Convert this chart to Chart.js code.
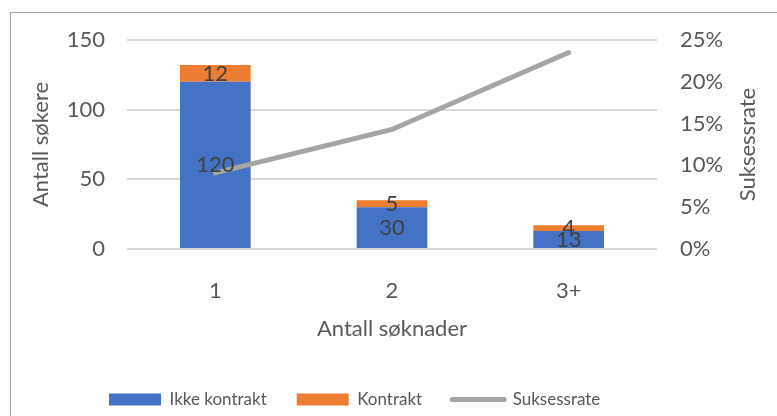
<!DOCTYPE html>
<html>
<head>
<meta charset="utf-8">
<script src="https://cdn.jsdelivr.net/npm/chart.js@4/dist/chart.umd.min.js"></script>
<style>
    body { margin: 0; background: #ffffff; }
    #wrap { position: relative; width: 777px; height: 416px; overflow: hidden; }
    #frame { position: absolute; left: 10px; top: 12px; width: 800px; height: 430px; border: 1px solid #ADA19B; box-sizing: border-box; }
    canvas { position: absolute; left: 0; top: 0; }
</style>
</head>
<body>
<div id="wrap">
    <div id="frame"></div>
    <canvas id="chart" width="777" height="416"></canvas>
</div>
<script>
// Søkere per antall søknader
const categories = ['1', '2', '3+'];
const ikkeKontrakt = [120, 30, 13];
const kontrakt = [12, 5, 4];
const suksessrate = [0.091, 0.143, 0.235];
const leftTicks = [0, 50, 100, 150];
const rightTicks = [0, 0.05, 0.10, 0.15, 0.20, 0.25];

const TEXT_COLOR = '#595959';
const LABEL_COLOR = '#404040';

Chart.defaults.font.family = 'Lato, "Open Sans", sans-serif';

// Value labels in the middle of each bar segment
const barLabels = {
    id: 'barLabels',
    afterDatasetsDraw(chart) {
        const ctx = chart.ctx;
        ctx.save();
        ctx.font = '22px Lato';
        ctx.fillStyle = LABEL_COLOR;
        ctx.textAlign = 'center';
        ctx.textBaseline = 'middle';
        chart.data.datasets.forEach((ds, i) => {
            if (ds.type === 'line') return;
            chart.getDatasetMeta(i).data.forEach((bar, j) => {
                const y = (bar.y + bar.base) / 2;
                ctx.fillText(String(ds.data[j]), bar.x, y);
            });
        });
        ctx.restore();
    }
};

// Right axis title reads bottom-to-top, and legend starts under the plot
const extras = {
    id: 'extras',
    afterLayout(chart) {
        const lg = chart.legend;
        lg.left = 109 - lg.options.labels.padding;
        lg.top += 2;
    },
    afterDraw(chart) {
        const ctx = chart.ctx;
        const area = chart.chartArea;
        ctx.save();
        ctx.font = '22px Lato';
        ctx.fillStyle = TEXT_COLOR;
        ctx.textAlign = 'center';
        ctx.textBaseline = 'middle';
        ctx.translate(748, (area.top + area.bottom) / 2);
        ctx.rotate(-Math.PI / 2);
        ctx.fillText('Suksessrate', 0, 0);
        ctx.restore();
    }
};

const ctx = document.getElementById('chart').getContext('2d');
const chart = new Chart(ctx, {
    type: 'bar',
    data: {
        labels: categories,
        datasets: [
            {
                label: 'Ikke kontrakt',
                data: ikkeKontrakt,
                backgroundColor: '#4472C4',
                stack: 's',
                yAxisID: 'y',
                order: 1
            },
            {
                label: 'Kontrakt',
                data: kontrakt,
                backgroundColor: '#ED7D31',
                stack: 's',
                yAxisID: 'y',
                order: 1
            },
            {
                type: 'line',
                label: 'Suksessrate',
                data: suksessrate,
                borderColor: '#A5A5A5',
                backgroundColor: '#A5A5A5',
                borderWidth: 5,
                borderCapStyle: 'round',
                pointRadius: 0,
                tension: 0,
                yAxisID: 'y1',
                order: 0
            }
        ]
    },
    options: {
        responsive: false,
        animation: false,
        datasets: {
            bar: {
                categoryPercentage: 1,
                barPercentage: 0.4
            }
        },
        layout: {
            padding: { left: 20, right: 0, top: 40, bottom: 0 }
        },
        plugins: {
            tooltip: { enabled: false },
            legend: {
                position: 'bottom',
                align: 'start',
                labels: {
                    usePointStyle: true,
                    pointStyleWidth: 52,
                    boxHeight: 12,
                    padding: 30,
                    color: TEXT_COLOR,
                    font: { size: 17 },
                    generateLabels(chart) {
                        const items = Chart.defaults.plugins.legend.labels.generateLabels(chart);
                        items.sort((a, b) => a.datasetIndex - b.datasetIndex);
                        items.forEach(item => {
                            const ds = chart.data.datasets[item.datasetIndex];
                            if (ds.type === 'line') {
                                item.pointStyle = 'line';
                                item.lineWidth = 5;
                                item.lineCap = 'round';
                            } else {
                                item.pointStyle = 'rect';
                                item.lineWidth = 0;
                            }
                        });
                        return items;
                    }
                }
            }
        },
        scales: {
            x: {
                stacked: true,
                grid: { display: false },
                border: { display: false },
                ticks: {
                    color: TEXT_COLOR,
                    font: { size: 22 },
                    padding: 21
                },
                title: {
                    display: true,
                    text: 'Antall søknader',
                    color: TEXT_COLOR,
                    font: { size: 22 },
                    padding: { top: 0, bottom: 17 }
                },
                afterFit(scale) { scale.height = 110; }
            },
            y: {
                stacked: true,
                position: 'left',
                min: 0,
                max: 150,
                afterBuildTicks(scale) { scale.ticks = leftTicks.map(v => ({ value: v })); },
                grid: { color: '#D9D9D9', lineWidth: 2, drawTicks: false },
                border: { display: false },
                ticks: {
                    color: TEXT_COLOR,
                    font: { size: 22 },
                    padding: 22
                },
                title: {
                    display: true,
                    text: 'Antall søkere',
                    color: TEXT_COLOR,
                    font: { size: 22 },
                    padding: { top: 8, bottom: 0 }
                },
                afterFit(scale) { scale.width = 107; }
            },
            y1: {
                position: 'right',
                min: 0,
                max: 0.25,
                afterBuildTicks(scale) { scale.ticks = rightTicks.map(v => ({ value: v })); },
                grid: { display: false, drawTicks: false },
                border: { display: false },
                ticks: {
                    color: TEXT_COLOR,
                    font: { size: 22 },
                    padding: 23,
                    callback: v => Math.round(v * 100) + '%'
                },
                afterFit(scale) { scale.width = 120; }
            }
        }
    },
    plugins: [barLabels, extras]
});
</script>
</body>
</html>
